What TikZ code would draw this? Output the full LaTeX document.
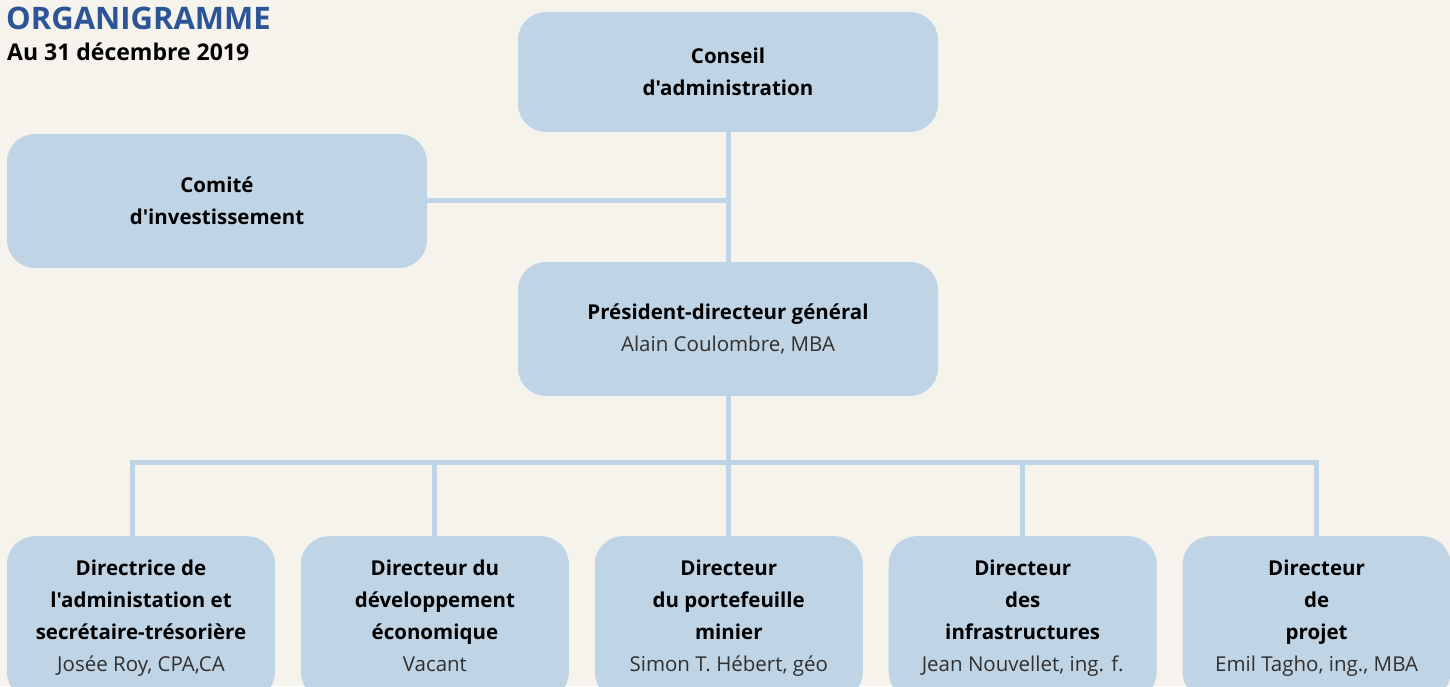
\documentclass[tikz,border=0pt]{standalone}
\usepackage{fontspec}
\setmainfont{Open Sans}[Ligatures=TeXOff]
\usetikzlibrary{chains,scopes,positioning}
\definecolor{orgbg}{HTML}{F6F3EC}
\definecolor{orgbox}{HTML}{BFD4E5}
\definecolor{orgtitle}{HTML}{2B5597}
\definecolor{orgname}{HTML}{303030}
\newcommand\nom[1]{{\mdseries\color{orgname}#1}}
\tikzset{
  org schemes/.style = {
    x = 1pt, y = 1pt,
    % Boites
    box/.style = {
      fill=orgbox, rounded corners=28pt,
      minimum width=420pt, minimum height=134pt,
      align=center, inner sep=0pt,
      font=\fontsize{20.5}{32}\selectfont\bfseries
    },
    top box/.style = { box, minimum height=120pt },
    dir box/.style = { box, minimum width=268pt, minimum height=0pt,
      anchor=north, inner ysep=23pt,
      text height=112pt, text depth=6pt, on chain },
    node distance = 25.5pt,
    % Lignes
    link line/.style = { draw=orgbox, line width=5pt },
    title/.style = { anchor=base west, inner sep=0pt, text=orgtitle,
      font=\fontsize{31}{36}\selectfont\bfseries },
  }
}
\begin{document}
\begin{tikzpicture}[org schemes]

  \fill[orgbg] (0,0) rectangle (1450,686);
  \useasboundingbox (0,0) rectangle (1450,686);
  \clip (0,0) rectangle (1450,686);

  \node[title] (titre) at (6,656) {ORGANIGRAMME};
  \node[title, text=black, font=\fontsize{23}{28}\selectfont\bfseries]
    (date) at (7,625) {Au 31 décembre 2019};

  \node[top box] (conseil) at (728,614) {Conseil\\d'administration};
  \node[box]     (comite)  at (217,485) {Comité\\d'investissement};
  \node[box]     (pdg)     at (728,357)
    {Président-directeur général\\\nom{Alain Coulombre, MBA}};

  { [start chain=dir going right]
    \node[dir box] at (141,150)
      {Directrice de\\l'administation et\\secrétaire-trésorière\\\nom{Josée Roy, CPA,CA}};
    \node[dir box] {Directeur du\\développement\\économique\\\nom{Vacant}};
    \node[dir box] {Directeur\\du portefeuille\\minier\\\nom{Simon T. Hébert, géo}};
    \node[dir box] {Directeur\\des\\infrastructures\\\nom{Jean Nouvellet, ing. f.}};
    \node[dir box] {Directeur\\de\\projet\\\nom{Emil Tagho, ing., MBA}};
  }

  \coordinate (bus) at (728,224);

  \draw[link line] (conseil.south) -- (pdg.north);
  \draw[link line] (comite.east) -- (comite.east -| conseil.south);
  \draw[link line] (pdg.south) -- (bus);
  \draw[link line] ([xshift=-9pt]dir-1.north) |- (bus) -| (dir-5.north);
  \foreach \i in {2,3,4}
    \draw[link line] (dir-\i.north) -- (dir-\i.north |- bus);

\end{tikzpicture}
\end{document}
